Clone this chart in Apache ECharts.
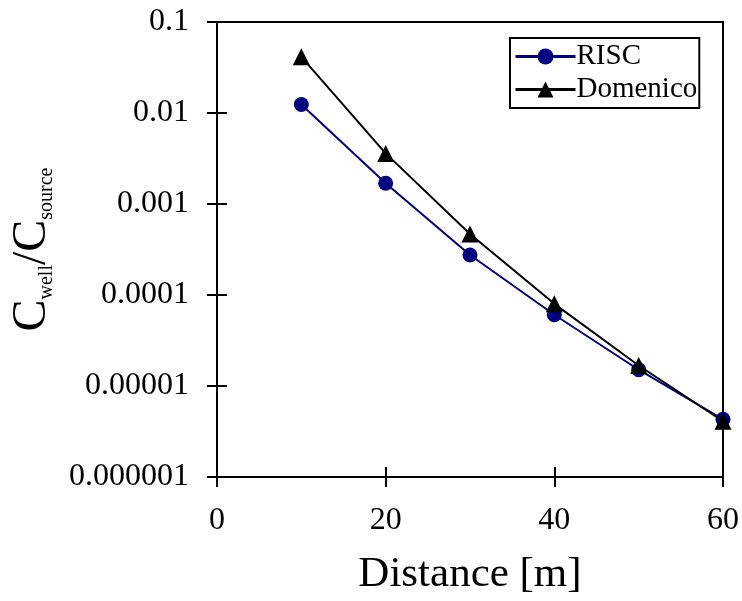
<!DOCTYPE html>
<html>
<head>
<meta charset="utf-8">
<script src="https://cdn.jsdelivr.net/npm/echarts@6/dist/echarts.min.js"></script>
<style>html,body{margin:0;padding:0;background:#fff;}#c{width:742px;height:601px;}</style>
</head>
<body>
<div id="c"></div>
<script>
var distances = [10, 20, 30, 40, 50, 60];
var riscValues = [0.0124, 0.00169, 0.000275, 0.0000607, 0.0000151, 0.0000043];
var domenicoValues = [0.0414, 0.0036, 0.000468, 0.000080, 0.0000168, 0.0000041];
var xTickLabels = ['0', '20', '40', '60'];
var yTickLabels = ['0.000001', '0.00001', '0.0001', '0.001', '0.01', '0.1'];
var seriesNames = ['RISC', 'Domenico'];

var FONT = "'Liberation Serif', 'Times New Roman', serif";
var chart = echarts.init(document.getElementById('c'), null, {renderer: 'canvas'});

function pairs(vals) { return distances.map(function (d, i) { return [d, vals[i]]; }); }
function yLabel(v) {
  var e = Math.round(Math.log10(v));
  return yTickLabels[e + 6];
}
function xLabel(v) { return xTickLabels[Math.round(v / 20)]; }

var option = {
  animation: false,
  backgroundColor: '#fff',
  grid: {left: 217, right: 18, top: 22, bottom: 122, show: true, borderColor: '#000', borderWidth: 2, containLabel: false},
  legend: {
    orient: 'vertical', left: 510, top: 38,
    itemWidth: 60, itemHeight: 20, itemGap: 4,
    padding: [4, 2, 4, 4],
    borderColor: '#000', borderWidth: 2, backgroundColor: '#fff',
    lineStyle: {width: 3},
    textStyle: {fontFamily: FONT, fontSize: 29, color: '#000', padding: [0, 0, 0, -4]},
    data: seriesNames
  },
  xAxis: [{
    type: 'value', min: 0, max: 60, interval: 20, position: 'bottom',
    axisLine: {show: true, lineStyle: {color: '#000', width: 2}},
    axisTick: {show: true, inside: false, length: 10, lineStyle: {color: '#000', width: 2}},
    splitLine: {show: false},
    axisLabel: {formatter: xLabel, fontFamily: FONT, fontSize: 32, color: '#000', margin: 28},
    name: 'Distance [m]', nameLocation: 'middle', nameGap: 76,
    nameTextStyle: {fontFamily: FONT, fontSize: 43, color: '#000'}
  }, {
    type: 'value', min: 0, max: 60, interval: 20, position: 'bottom', offset: 0,
    axisLine: {show: false},
    axisTick: {show: true, inside: true, length: 10, lineStyle: {color: '#000', width: 2}},
    splitLine: {show: false}, axisLabel: {show: false}
  }],
  yAxis: [{
    type: 'log', logBase: 10, min: 0.000001, max: 0.1, interval: 1, position: 'left',
    axisLine: {show: true, lineStyle: {color: '#000', width: 2}},
    axisTick: {show: true, inside: false, length: 10, lineStyle: {color: '#000', width: 2}},
    minorTick: {show: false},
    splitLine: {show: false},
    axisLabel: {formatter: yLabel, fontFamily: FONT, fontSize: 32, color: '#000', margin: 28},
    name: '{c|C}{s|well}{c|/C}{s|source}',
    nameLocation: 'middle', nameGap: 160, nameRotate: 90,
    nameTextStyle: {
      color: '#000',
      rich: {
        c: {fontFamily: FONT, fontSize: 48, lineHeight: 50, color: '#000'},
        s: {fontFamily: FONT, fontSize: 20, lineHeight: 30, verticalAlign: 'bottom', color: '#000'}
      }
    }
  }, {
    type: 'log', logBase: 10, min: 0.000001, max: 0.1, interval: 1, position: 'left', offset: 0,
    axisLine: {show: false},
    axisTick: {show: true, inside: true, length: 10, lineStyle: {color: '#000', width: 2}},
    splitLine: {show: false}, axisLabel: {show: false}
  }],
  series: [{
    name: seriesNames[0], type: 'line', xAxisIndex: 0, yAxisIndex: 0,
    data: pairs(riscValues),
    symbol: 'circle', symbolSize: 15,
    lineStyle: {color: '#000080', width: 2},
    itemStyle: {color: '#000080'},
    z: 3
  }, {
    name: seriesNames[1], type: 'line', xAxisIndex: 0, yAxisIndex: 0,
    data: pairs(domenicoValues),
    symbol: 'triangle', symbolSize: 17,
    lineStyle: {color: '#000', width: 2},
    itemStyle: {color: '#000'},
    z: 4
  }]
};
chart.setOption(option);
</script>
</body>
</html>
